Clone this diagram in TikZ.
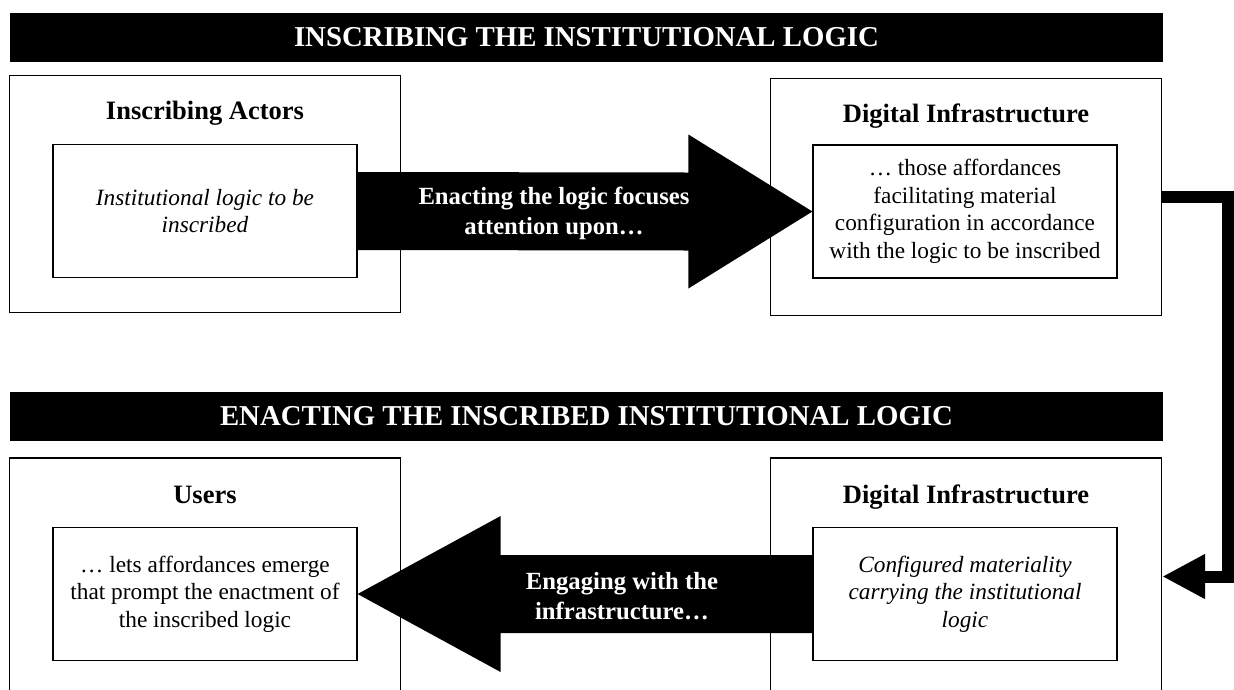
\documentclass[tikz,border=0pt]{standalone}
\usepackage{fontspec}
\setmainfont{Liberation Serif}
\usetikzlibrary{calc,arrows.meta}

\newcommand\bannerfont{\fontsize{28.8}{32}\selectfont\bfseries}
\newcommand\titlefont{\fontsize{26.5}{30}\selectfont\bfseries}
\newcommand\boxfont{\fontsize{23.3}{27.6}\selectfont}
\newcommand\arrowfont{\fontsize{24.7}{30}\selectfont\bfseries}

\begin{document}
\begin{tikzpicture}[x=1pt,y=-1pt,
    banner/.style={fill=black,text=white,font=\bannerfont,minimum width=1153pt,minimum height=49pt,inner sep=0pt},
    outerbox/.style={draw,line width=1.4pt,minimum width=391pt,minimum height=237pt,inner sep=0pt},
    innerbox/.style={draw,line width=1.2pt,minimum width=304pt,minimum height=133pt,inner sep=0pt,align=center,font=\boxfont},
    boxtitle/.style={font=\titlefont,inner sep=0pt,anchor=base},
    arrowtext/.style={text=white,font=\arrowfont,align=center,inner sep=0pt},
    flowline/.style={line width=12pt,-{Triangle[length=43pt,width=42pt]}}]
                \useasboundingbox (0,0) rectangle (1234,689);
                \clip (0,0) rectangle (1234,689);
                % 标题栏
                \node[banner] (inscr) at (586.5,37.5) {INSCRIBING THE INSTITUTIONAL LOGIC};
                \node[banner] (enact) at (586.5,416.5) {ENACTING THE INSCRIBED INSTITUTIONAL LOGIC};
                % 外框
                \node[outerbox] (outA) at (205,194) {};
                \node[outerbox] (outB) at (966,197) {};
                \node[outerbox] (outC) at (205,576.5) {};
                \node[outerbox] (outD) at (966,576.5) {};
                \node[boxtitle] (titleA) at (205,119) {Inscribing Actors};
                \node[boxtitle] (titleB) at (966,122.5) {Digital Infrastructure};
                \node[boxtitle] (titleC) at (205,503) {Users};
                \node[boxtitle] (titleD) at (966,503) {Digital Infrastructure};
                % 内框
                \node[innerbox] (inA) at (205,211) {\itshape Institutional logic to be\\\itshape inscribed};
                \node[innerbox] (inB) at (965,211.5) {… those affordances\\facilitating material\\configuration in accordance\\with the logic to be inscribed};
                \node[innerbox] (inC) at (205,594) {… lets affordances emerge\\that prompt the enactment of\\the inscribed logic};
                \node[innerbox] (inD) at (965,594) {\itshape Configured materiality\\\itshape carrying the institutional\\\itshape logic};
                % 粗箭头
                \fill ($(inA.east)+(0,-39)$) -- ($(inB.west)+(-124,-39)$) -- ($(inB.west)+(-124,-77)$) -- (inB.west)
                    -- ($(inB.west)+(-124,77)$) -- ($(inB.west)+(-124,39)$) -- ($(inA.east)+(0,39)$) -- cycle;
                \fill ($(inD.west)+(0,-39)$) -- ($(inC.east)+(143,-39)$) -- ($(inC.east)+(143,-78)$) -- (inC.east)
                    -- ($(inC.east)+(143,78)$) -- ($(inC.east)+(143,39)$) -- ($(inD.west)+(0,39)$) -- cycle;
                \node[arrowtext] (lblA) at (554,213) {Enacting the logic focuses\\attention upon…};
                \node[arrowtext] (lblC) at (622,596) {Engaging with the\\infrastructure…};
                % 右侧连线
                \draw[flowline] (outB.east) -- ++(66,0) |- (outD.east);
            \end{tikzpicture}
\end{document}
